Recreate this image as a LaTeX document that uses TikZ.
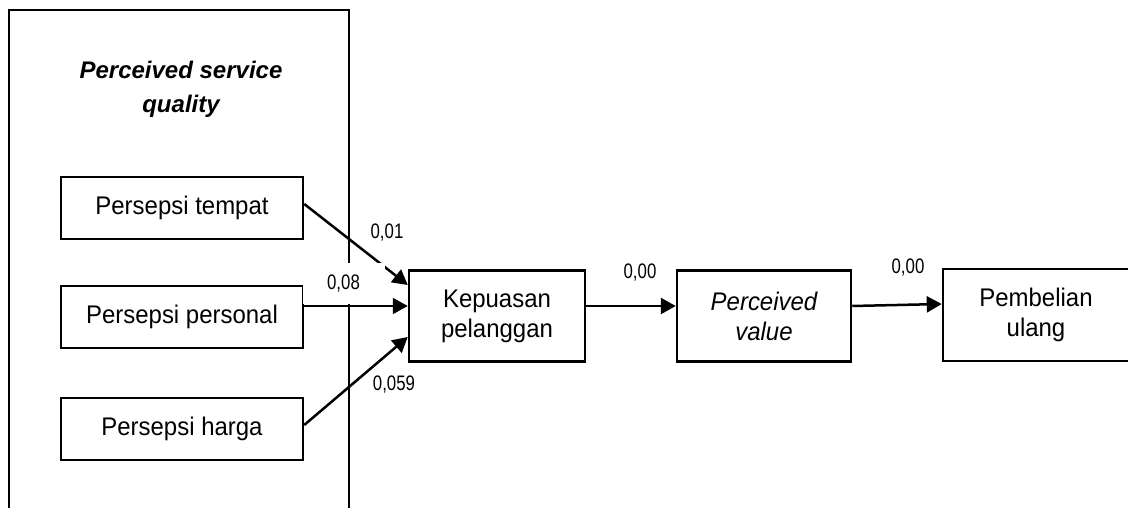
\documentclass[tikz,border=0pt]{standalone}
\usepackage{fontspec}
\setmainfont{Liberation Sans}
\newfontfamily\boxfamily[FakeStretch=0.94]{Liberation Sans}
\newfontfamily\coeffamily[FakeStretch=0.8]{Liberation Sans}
\usetikzlibrary{arrows.meta}
\begin{document}
\begin{tikzpicture}[x=1pt,y=-1pt,
  boxstyle/.style={draw=black,line width=2.5pt,inner sep=0pt,align=center,
    font=\boxfamily\fontsize{25.5}{30}\selectfont},
  coef/.style={inner sep=0pt,font=\coeffamily\fontsize{21}{24}\selectfont},
  arr/.style={line width=2.5pt,-{Triangle[length=15pt,width=16pt]}}]
\useasboundingbox (0,0) rectangle (1128,508);
\clip (0,0) rectangle (1128,508);
% outer frame (open at the bottom, cut by the page edge)
\coordinate (fbl) at (9,512);
\coordinate (ftl) at (9,10);
\coordinate (ftr) at (349,10);
\coordinate (fbr) at (349,512);
\draw[line width=2.5pt] (fbl) -- (ftl) -- (ftr) -- (fbr);
\node[align=center,inner sep=0pt,font=\fontsize{24}{34}\selectfont\bfseries\itshape] (title) at (181,89) {Perceived service\\quality};
% boxes
\node[boxstyle,minimum width=242pt,minimum height=62pt] (tempat) at (182,208) {Persepsi tempat};
\node[boxstyle,minimum width=242pt,minimum height=62pt] (personal) at (182,317) {Persepsi personal};
\node[boxstyle,minimum width=242pt,minimum height=62pt] (harga) at (182,429) {Persepsi harga};
\node[boxstyle,minimum width=176pt,minimum height=91pt] (kep) at (497,316) {Kepuasan\\pelanggan};
\node[boxstyle,minimum width=174pt,minimum height=91pt] (val) at (764,316) {\itshape Perceived\\\itshape value};
\node[boxstyle,minimum width=186pt,minimum height=92pt] (beli) at (1036,315) {Pembelian\\ulang};
% arrows
\draw[arr] ([yshift=4pt]tempat.east) -- ([yshift=31pt]kep.west);
\draw[arr,line width=2.2pt] ([yshift=11pt]personal.east) -- ([yshift=10pt]kep.west);
\draw[arr] ([yshift=4pt]harga.east) -- ([yshift=-21pt]kep.west);
\draw[arr] ([yshift=10pt]kep.east) -- ([yshift=10pt]val.west);
\draw[arr] ([yshift=10pt]val.east) -- ([yshift=11pt]beli.west);
% coefficients
\node[coef] (c01) at (387,233) {0,01};
\node[coef,fill=white,minimum width=82pt,minimum height=41pt] (c08) at (343.5,283.5) {0,08};
\node[coef] (c059) at (394,385) {0,059};
\node[coef] (c00a) at (640,273) {0,00};
\node[coef] (c00b) at (908,268) {0,00};
\end{tikzpicture}
\end{document}
